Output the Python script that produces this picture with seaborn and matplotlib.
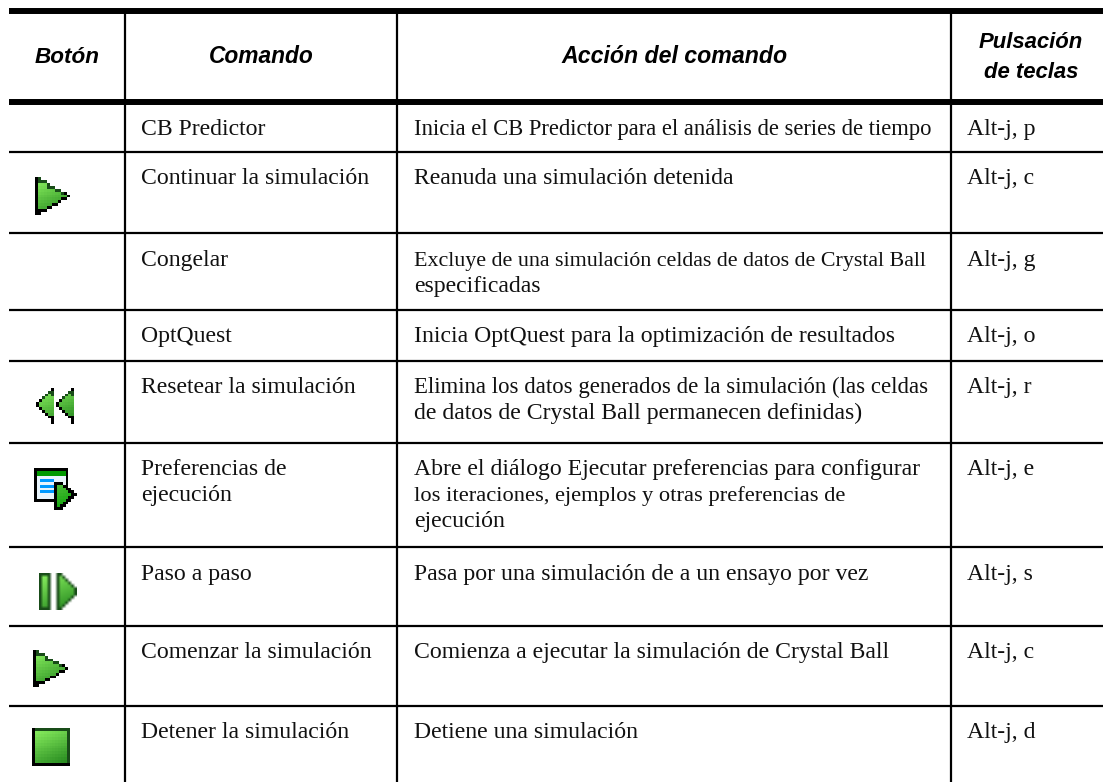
"""
plot.py
Button / command table for the Crystal Ball run menu.
"""
import numpy as np
import pandas as pd
import matplotlib
matplotlib.use("Agg")
import matplotlib.pyplot as plt
import seaborn as sns

# ----------------------------- #
# Table content
# ----------------------------- #
headers = ["Botón", "Comando", "Acción del comando", "Pulsación\nde teclas"]
commands = [
    "CB Predictor",
    "Continuar la simulación",
    "Congelar",
    "OptQuest",
    "Resetear la simulación",
    "Preferencias de\nejecución",
    "Paso a paso",
    "Comenzar la simulación",
    "Detener la simulación",
]
actions = [
    "Inicia el CB Predictor para el análisis de series de tiempo",
    "Reanuda una simulación detenida",
    "Excluye de una simulación celdas de datos de Crystal Ball\nespecificadas",
    "Inicia OptQuest para la optimización de resultados",
    "Elimina los datos generados de la simulación (las celdas\nde datos de Crystal Ball permanecen definidas)",
    "Abre el diálogo Ejecutar preferencias para configurar\nlos iteraciones, ejemplos y otras preferencias de\nejecución",
    "Pasa por una simulación de a un ensayo por vez",
    "Comienza a ejecutar la simulación de Crystal Ball",
    "Detiene una simulación",
]
keys = ["Alt-j, p", "Alt-j, c", "Alt-j, g", "Alt-j, o", "Alt-j, r",
        "Alt-j, e", "Alt-j, s", "Alt-j, c", "Alt-j, d"]
icons = [None, "play", None, None, "rewind", "prefs", "step", "play", "stop"]

# the source squeezes a few long lines, so those get a smaller size
BODY_SIZE = 17.1
squeezed = {
    "Inicia el CB Predictor para el análisis de series de tiempo": 16.3,
    "Excluye de una simulación celdas de datos de Crystal Ball": 15.8,
    "Elimina los datos generados de la simulación (las celdas": 16.4,
    "los iteraciones, ejemplos y otras preferencias de": 16.2,
}

# ----------------------------- #
# Icon bitmaps
# ----------------------------- #
PLAY = ["kd..........",
        "kddd........",
        "kgggd.......",
        "kgggddd.....",
        "kggggggdd...",
        "kggggggggdk.",
        "kggggggggggk",
        "kggggggggkk.",
        "kgggggggk...",
        "kgggggkk....",
        "kgggkk......",
        "kkkk........",
        "kk.........."]
REWIND_HALF = [".....k", "....dd", "...dgd", "..dggg", ".kgggg", "kggggg", "kggggg",
               ".kgggg", "..kggg", "...kgg", "....kk", ".....k", ".....k"]
REWIND = [r + "." + r for r in REWIND_HALF]
PREFS = ["kkkkkkkkkkkk...",
         "kttttttttttk...",
         "kttttttttttk...",
         "kwwwwwwwwwwk...",
         "kwbbbbbwwwwk...",
         "kwwwwwwkkkwk...",
         "kwbbbbbkggkk...",
         "kwwwwwwkgggkk..",
         "kwbbbbbkggggkk.",
         "kwwwwwwkgggggkk",
         "kwwwwwwkggggkk.",
         "kkkkkkkkgggkk..",
         ".......kggkk...",
         ".......kgkk....",
         ".......kkk....."]
STEP = ["dddd..dd.....",
        "dggd..dgd....",
        "dggd..dggd...",
        "dggd..dgggd..",
        "dggd..dggggd.",
        "dggd..dgggggd",
        "dggd..dgggggd",
        "dggd..dgggggd",
        "dggd..dggggd.",
        "dggd..dgggd..",
        "dggd..dggd...",
        "dggd..dgd....",
        "dddd..dd....."]
STOP = ["kdddddddddddd"] + ["kgggggggggggd"] * 11 + ["kkkkkkkkkkkkk"]
bitmaps = {"play": PLAY, "rewind": REWIND, "prefs": PREFS, "step": STEP, "stop": STOP}

# left, right, top, bottom in pixels
icon_boxes = {
    1: (35, 70, 177, 215),
    4: (36, 74, 388, 424),
    5: (34, 77, 468, 510),
    6: (39, 77, 573, 610),
    7: (33, 68, 650, 687),
    8: (32, 70, 728, 766),
}

# ----------------------------- #
# Table geometry (pixels)
# ----------------------------- #
W, H = 1103, 782
thick_rules = [11, 102]
thin_rules = [152, 233, 310, 361, 443, 547, 626, 706]
columns = [125, 397, 951]
first_baselines = [135, 184, 266, 342, 393, 475, 580, 658, 738]
LINE_STEP = 26


def icon_image(name):
    rows = bitmaps[name]
    n, m = len(rows), len(rows[0])
    light = np.array([0.55, 0.95, 0.38])
    dark = np.array([0.13, 0.52, 0.11])
    if name == "prefs":
        light, dark = np.array([0.55, 0.85, 0.40]), np.array([0.0, 0.62, 0.0])
    solid = {".": (1, 1, 1), "k": (0, 0, 0), "d": (0.10, 0.30, 0.10),
             "t": (0, 0.6, 0), "w": (0.91, 0.96, 0.99), "b": (0, 0.6, 1)}
    img = np.ones((n, m, 3))
    for i, row in enumerate(rows):
        for j, c in enumerate(row):
            if c == "g":
                f = 0.7 * i / (n - 1) + 0.3 * j / (m - 1)
                img[i, j] = light + (dark - light) * f
            else:
                img[i, j] = solid[c]
    return img


sns.set_theme(style="white")
plt.rcParams["font.family"] = ["Liberation Serif", "DejaVu Serif"]

fig = plt.figure(figsize=(W / 100, H / 100), dpi=100)
ax = fig.add_axes([0, 0, 1, 1])

# ----------------------------- #
# Rules
# ----------------------------- #
h_df = pd.DataFrame([{"rule": y, "x": x, "y": y} for y in thin_rules for x in (9, W)])
t_df = pd.DataFrame([{"rule": y, "x": x, "y": y} for y in thick_rules for x in (9, W)])
v_df = pd.DataFrame([{"rule": x, "x": x, "y": y} for x in columns for y in (11, H)])
sns.lineplot(data=v_df, x="x", y="y", units="rule", estimator=None, sort=False, ax=ax,
             color="black", linewidth=1.6, solid_capstyle="butt", legend=False)
sns.lineplot(data=h_df, x="x", y="y", units="rule", estimator=None, sort=False, ax=ax,
             color="black", linewidth=1.6, solid_capstyle="butt", legend=False)
sns.lineplot(data=t_df, x="x", y="y", units="rule", estimator=None, sort=False, ax=ax,
             color="black", linewidth=4.3, solid_capstyle="butt", legend=False)

# ----------------------------- #
# Header
# ----------------------------- #
head_kw = dict(family=["Liberation Sans"], weight="bold", style="italic",
               color="black", ha="center", va="baseline")
ax.text(67, 63, headers[0], fontsize=16.2, **head_kw)
ax.text(261, 63, headers[1], fontsize=16.4, **head_kw)
ax.text(674.5, 63, headers[2], fontsize=16.7, **head_kw)
ax.text(1031, 48, headers[3].split("\n")[0], fontsize=15.9, **head_kw)
ax.text(1031, 78, headers[3].split("\n")[1], fontsize=15.9, **head_kw)

# ----------------------------- #
# Body
# ----------------------------- #
for row, base in enumerate(first_baselines):
    for x, cell in ((141, commands[row]), (414, actions[row]), (967, keys[row])):
        for k, line in enumerate(cell.split("\n")):
            ax.text(x, base + k * LINE_STEP, line, fontsize=squeezed.get(line, BODY_SIZE),
                    color="#111111", ha="left", va="baseline")
    if icons[row]:
        l, r, t, b = icon_boxes[row]
        ax.imshow(icon_image(icons[row]), extent=(l, r, b, t), aspect="auto", zorder=3,
                  interpolation="bilinear" if icons[row] == "step" else "nearest")

ax.set_xlim(0, W)
ax.set_ylim(H, 0)
ax.axis("off")
fig.savefig("out.png", dpi=100)
